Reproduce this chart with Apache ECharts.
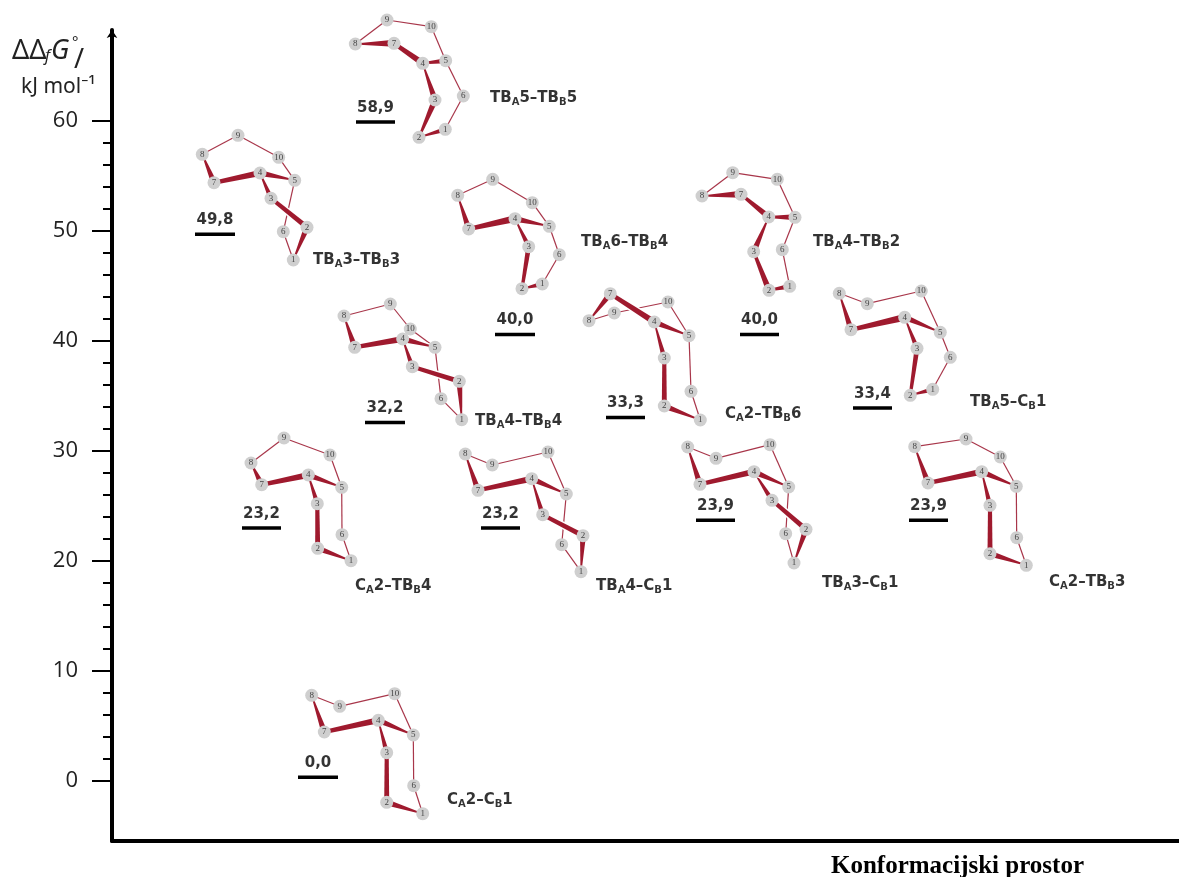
<!DOCTYPE html>
<html>
<head>
<meta charset="utf-8">
<title>Konformacijski prostor</title>
<script src="https://cdn.jsdelivr.net/npm/echarts@6/dist/echarts.min.js"></script>
<style>
  html, body { margin: 0; padding: 0; background: #fff; }
  #chart { width: 1179px; height: 877px; }
</style>
</head>
<body>
<div id="chart"></div>
<script>
// konformeri, redom kao na slici
const conformers = ['TB_A5–TB_B5', 'TB_A3–TB_B3', 'TB_A6–TB_B4', 'TB_A4–TB_B2', 'TB_A4–TB_B4', 'C_A2–TB_B6',
  'TB_A5–C_B1', 'C_A2–TB_B4', 'TB_A4–C_B1', 'TB_A3–C_B1', 'C_A2–TB_B3', 'C_A2–C_B1'];
const levelLabels = ['58,9', '49,8', '40,0', '40,0', '32,2', '33,3', '33,4', '23,2', '23,2', '23,9', '23,9', '0,0'];
// visina crtice kako je nacrtana na y osi (kJ/mol)
const levelHeights = [59.9, 49.7, 40.6, 40.6, 32.6, 33.05, 33.9, 23.0, 23.0, 23.7, 23.7, 0.34];
// pocetak i kraj crtice na skrivenoj x osi
const levelStart = [356, 195, 495, 740, 365, 606, 853, 242, 481, 696, 909, 298];
const levelEnd = [395, 235, 535, 779, 405, 645, 892, 281, 520, 735, 948, 338];
const namePosX = [490, 313, 581, 813, 475, 725, 970, 355, 596, 822, 1049, 447];
const namePosY = [96, 258, 240, 240, 419, 412, 400, 584, 584, 581, 580, 798];

const majorTicks = [0, 10, 20, 30, 40, 50, 60];
const minorTicks = [2, 4, 6, 8, 12, 14, 16, 18, 22, 24, 26, 28, 32, 34, 36, 38, 42, 44, 46, 48, 52, 54, 56, 58];

// atomi 1-10 svake strukture, ocitani na skrivenim osima
const atoms = [
  [[445.3,129.3],[419,137.3],[435,100],[422.7,63.3],[445.7,60.7],[463.3,96],[394,43.3],[355.3,44],[387,20],[431.3,26.7]],
  [[293.3,260],[307,227.3],[271,198.3],[260,173],[294.7,180.3],[283.3,231.7],[214,182.7],[202.3,154.3],[238,135.3],[278.7,157.3]],
  [[542.3,284],[522,288.7],[528.7,246.7],[515,218.7],[549.3,226.3],[559.3,254.7],[468.7,229],[457.7,195.3],[492.7,179.3],[532.3,202.7]],
  [[789.7,286.3],[769,290.3],[753.7,251.7],[768.7,217],[795,217.3],[782.3,249.7],[741,194.3],[702,196],[732.7,172.7],[777.3,179.3]],
  [[461.7,419.7],[459.3,381.3],[412.3,366.7],[402.7,339],[435,347.3],[441,398.7],[354.7,347.3],[344,316],[390.3,304],[410.3,329]],
  [[700.3,420],[664.3,406],[664.3,358],[654.3,322],[689,335.7],[691,391.3],[610.3,293.7],[589,320.7],[614.3,313],[668,302]],
  [[932.7,389.3],[910.3,395.3],[917,348.3],[904.7,317.3],[940.3,332.3],[950.3,357.3],[851,329.7],[839.3,293.3],[867.3,303.7],[921.3,291]],
  [[351,560.7],[317.7,548.3],[317.3,503.7],[308.3,475],[341.7,487.3],[342,534.7],[261.7,484.7],[251,463],[284,438],[330,455]],
  [[581,571.7],[583,535.7],[542.7,514.7],[531.7,478.7],[566.3,494],[561.7,544.7],[478,490.3],[465.3,454],[492.3,465],[548,452]],
  [[794,563],[806,529.3],[772,500.3],[754,471.7],[788.7,487],[785.7,533.7],[700,484.3],[687.7,447],[716,458.3],[770,444.7]],
  [[1026.3,565.3],[990,553.7],[990,505.3],[981.7,471.7],[1016.3,486.3],[1016.7,537.7],[928,483],[914.7,446.7],[966,439],[1000.3,457]],
  [[422.7,813.7],[386.7,802.3],[386.7,752.7],[378.3,720.3],[413.3,735],[413.7,785.7],[324.3,732],[311.7,695.3],[339.7,706.3],[394.7,693.7]]
];

const thinBonds = [[8, 9], [9, 10], [10, 5], [5, 6], [6, 1]];
// debele veze s debljinom na pocetku i kraju (klin)
const wedgeBonds = [[1, 2], [2, 3], [3, 4], [4, 5], [4, 7], [7, 8]];
const wedgeFront = [[1, 6], [5, 4], [5, 1], [6, 1], [6, 4], [6, 1]];
const wedgeBack = [[5, 1], [3, 5], [5, 1], [6, 1], [7, 4], [6, 1]];
const wedgeTop = [[5, 1], [2, 6], [6, 1], [2, 5], [6, 4], [7, 1]];
const wedgeSide = [[5, 2], [6, 3], [6, 1], [2, 6], [6, 3], [7, 1]];
const wedgeOf = [wedgeTop, wedgeFront, wedgeBack, wedgeSide, wedgeFront, wedgeFront, wedgeBack, wedgeFront, wedgeFront, wedgeFront, wedgeFront, wedgeFront];

const bondRed = '#9f1a2e';
const ink = '#000';
const textFont = 'DejaVu Sans';

const thinRows = [];
const wedgeRows = [];
const atomRows = [];
atoms.forEach((mol, m) => {
  thinBonds.forEach(([a, b]) => {
    thinRows.push([mol[a - 1][0], mol[a - 1][1], mol[b - 1][0], mol[b - 1][1]]);
  });
  wedgeBonds.forEach(([a, b], i) => {
    const w = wedgeOf[m][i];
    wedgeRows.push([mol[a - 1][0], mol[a - 1][1], mol[b - 1][0], mol[b - 1][1], w[0], w[1]]);
  });
  mol.forEach((p, i) => atomRows.push({ value: p, num: i + 1 }));
});

const levelRows = levelHeights.map((h, i) => [levelStart[i], levelEnd[i], h]);
const levelLabelRows = levelHeights.map((h, i) => ({ value: [(levelStart[i] + levelEnd[i]) / 2, h], text: levelLabels[i] }));
const nameRows = conformers.map((n, i) => ({
  value: [namePosX[i], namePosY[i]],
  // TB_A5 -> {n|TB}{s|A}{n|5}
  text: n.split(/_([AB])/).map((part, k) => (k % 2 ? `{s|${part}}` : `{n|${part}}`)).join('')
}));

function renderThin(params, api) {
  const a = api.coord([api.value(0), api.value(1)]);
  const b = api.coord([api.value(2), api.value(3)]);
  return {
    type: 'line',
    shape: { x1: a[0], y1: a[1], x2: b[0], y2: b[1] },
    style: { stroke: '#a8364a', lineWidth: 1.2, fill: null }
  };
}

function renderWedge(params, api) {
  const a = api.coord([api.value(0), api.value(1)]);
  const b = api.coord([api.value(2), api.value(3)]);
  const dx = b[0] - a[0];
  const dy = b[1] - a[1];
  const len = Math.sqrt(dx * dx + dy * dy);
  const nx = -dy / len;
  const ny = dx / len;
  const wa = api.value(4) / 2;
  const wb = api.value(5) / 2;
  const points = [
    [a[0] + nx * wa, a[1] + ny * wa],
    [b[0] + nx * wb, b[1] + ny * wb],
    [b[0] - nx * wb, b[1] - ny * wb],
    [a[0] - nx * wa, a[1] - ny * wa]
  ];
  return {
    type: 'group',
    children: [
      { type: 'polygon', shape: { points: points }, style: { fill: null, stroke: '#fff', lineWidth: 3 } },
      { type: 'polygon', shape: { points: points }, style: { fill: bondRed } }
    ]
  };
}

function renderLevel(params, api) {
  const a = api.coord([api.value(0), api.value(2)]);
  const b = api.coord([api.value(1), api.value(2)]);
  return {
    type: 'rect',
    shape: { x: a[0], y: a[1] - 1.75, width: b[0] - a[0], height: 3.5 },
    style: { fill: ink }
  };
}

const chart = echarts.init(document.getElementById('chart'), null, { renderer: 'canvas' });

chart.setOption({
  animation: false,
  backgroundColor: '#fff',
  title: [
    { text: 'ΔΔ', left: 7, top: 33, textStyle: { fontFamily: 'Noto Sans', fontWeight: 'normal', fontSize: 27, color: '#222' } },
    { text: 'f', left: 40, top: 43, textStyle: { fontFamily: 'Noto Sans', fontStyle: 'italic', fontWeight: 'normal', fontSize: 16, color: '#222' } },
    { text: 'G', left: 46, top: 33, textStyle: { fontFamily: 'Noto Sans', fontStyle: 'italic', fontWeight: 'normal', fontSize: 27, color: '#222' } },
    { text: '°', left: 67, top: 30, textStyle: { fontFamily: 'Noto Sans', fontWeight: 'normal', fontSize: 15, color: '#222' } },
    { text: '/', left: 69, top: 42, textStyle: { fontFamily: 'Noto Sans', fontWeight: 'normal', fontSize: 27, color: '#222' } },
    { text: 'kJ mol⁻¹', left: 16, top: 72, textStyle: { fontFamily: 'Noto Sans', fontWeight: 'normal', fontSize: 21, color: '#222' } },
    { text: 'Konformacijski prostor', left: 826, top: 849, textStyle: { fontFamily: 'Liberation Serif', fontWeight: 'bold', fontSize: 25, color: ink } }
  ],
  grid: { left: 112, top: 30, width: 1067, height: 811, containLabel: false },
  xAxis: {
    type: 'value',
    min: 112,
    max: 1179,
    position: 'bottom',
    splitLine: { show: false },
    axisTick: { show: false },
    axisLabel: { show: false },
    axisLine: { show: true, onZero: false, lineStyle: { color: ink, width: 4 } }
  },
  yAxis: [
    {
      type: 'value',
      min: -5.4545,
      max: 68.27,
      position: 'left',
      splitLine: { show: false },
      axisLine: { show: true, onZero: false, symbol: ['none', 'arrow'], symbolSize: [8, 8], lineStyle: { color: ink, width: 4 } },
      axisTick: { show: true, customValues: majorTicks, length: 20, lineStyle: { color: ink, width: 2 } },
      axisLabel: { show: true, customValues: majorTicks, margin: 34, fontFamily: 'Open Sans', fontSize: 22, color: '#222' }
    },
    {
      type: 'value',
      min: -5.4545,
      max: 68.27,
      position: 'left',
      splitLine: { show: false },
      axisLine: { show: false, onZero: false },
      axisTick: { show: true, customValues: minorTicks, length: 9, lineStyle: { color: ink, width: 2 } },
      axisLabel: { show: false }
    },
    // skrivena os za crtanje struktura
    { type: 'value', min: 30, max: 841, inverse: true, show: false }
  ],
  series: [
    {
      type: 'custom',
      yAxisIndex: 2,
      z: 2,
      clip: false,
      silent: true,
      renderItem: renderThin,
      data: thinRows
    },
    {
      type: 'custom',
      yAxisIndex: 2,
      z: 3,
      clip: false,
      silent: true,
      renderItem: renderWedge,
      data: wedgeRows
    },
    {
      type: 'scatter',
      yAxisIndex: 2,
      z: 4,
      clip: false,
      silent: true,
      symbol: 'circle',
      symbolSize: 13,
      itemStyle: { color: '#cfcfcf', opacity: 1 },
      label: {
        show: true,
        position: 'inside',
        formatter: (p) => String(p.data.num),
        fontFamily: 'Liberation Serif',
        fontSize: 9,
        color: '#444'
      },
      data: atomRows
    },
    {
      type: 'custom',
      yAxisIndex: 0,
      z: 5,
      silent: true,
      clip: false,
      renderItem: renderLevel,
      data: levelRows
    },
    {
      type: 'scatter',
      yAxisIndex: 0,
      z: 6,
      silent: true,
      symbolSize: 0,
      label: {
        show: true,
        position: 'inside',
        offset: [0, -14],
        formatter: (p) => p.data.text,
        fontFamily: textFont,
        fontWeight: 'bold',
        fontSize: 15,
        color: ink
      },
      data: levelLabelRows
    },
    {
      type: 'scatter',
      yAxisIndex: 2,
      z: 6,
      silent: true,
      symbolSize: 0,
      label: {
        show: true,
        position: 'right',
        distance: 0,
        offset: [0, 2],
        formatter: (p) => p.data.text,
        rich: {
          n: { fontFamily: textFont, fontWeight: 'bold', fontSize: 15, color: ink },
          s: { fontFamily: textFont, fontWeight: 'bold', fontSize: 10, color: ink, padding: [8, 0, 0, 0] }
        }
      },
      data: nameRows
    }
  ]
});
</script>
</body>
</html>
